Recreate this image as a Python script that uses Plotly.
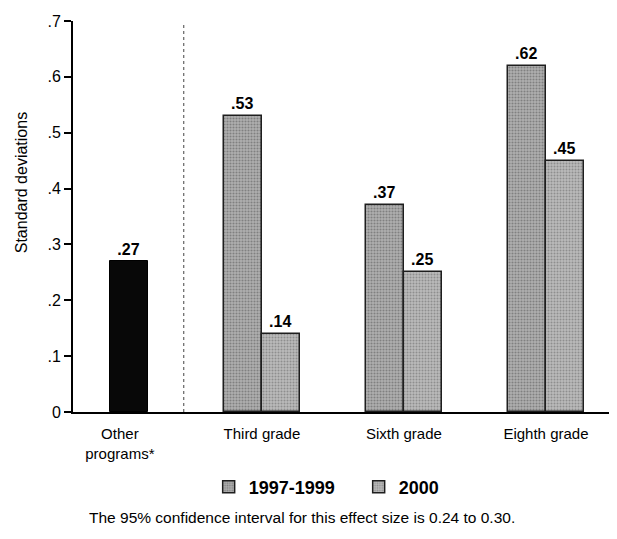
import plotly.graph_objects as go

categories = ["Other<br>programs*", "Third grade", "Sixth grade", "Eighth grade"]
other_label = ["Other<br>programs*"]
other_value = [0.27]
grade_labels = ["Third grade", "Sixth grade", "Eighth grade"]
values_1997_1999 = [0.53, 0.37, 0.62]
values_2000 = [0.14, 0.25, 0.45]
y_ticks = [0, 0.1, 0.2, 0.3, 0.4, 0.5, 0.6, 0.7]
y_tick_text = ["0", ".1", ".2", ".3", ".4", ".5", ".6", ".7"]


def fmt(v):
    return f"{v:.2f}".lstrip("0")


FONT = "Arial, Liberation Sans, sans-serif"
W = 0.27
LABEL_FONT = dict(family=FONT, size=16, color="black", weight="bold")

fig = go.Figure()
fig.add_trace(go.Bar(
    x=other_label, y=other_value, width=W, offset=-0.07,
    marker=dict(color="#080808", line=dict(color="#000000", width=1)),
    text=[fmt(v) for v in other_value], textposition="outside",
    textfont=LABEL_FONT, showlegend=False, cliponaxis=False,
))
fig.add_trace(go.Bar(
    x=grade_labels, y=values_1997_1999, width=W, offset=-W, name="1997-1999",
    marker=dict(color="#969696", line=dict(color="#1e1e1e", width=1.5),
                pattern=dict(shape=".", fgcolor="#505050", bgcolor="#b0b0b0", size=3, solidity=0.4)),
    text=[fmt(v) for v in values_1997_1999], textposition="outside",
    textfont=LABEL_FONT, cliponaxis=False,
))
fig.add_trace(go.Bar(
    x=grade_labels, y=values_2000, width=W, offset=0, name="2000",
    marker=dict(color="#a4a4a4", line=dict(color="#1e1e1e", width=1.5),
                pattern=dict(shape=".", fgcolor="#626262", bgcolor="#bababa", size=3, solidity=0.35)),
    text=[fmt(v) for v in values_2000], textposition="outside",
    textfont=LABEL_FONT, cliponaxis=False,
))

fig.add_shape(type="line", xref="x", yref="y", x0=0.45, x1=0.45, y0=0, y1=0.695,
              line=dict(color="#444444", width=1, dash="dot"))

fig.add_annotation(text="Standard deviations", xref="paper", yref="paper",
                   x=-0.095, y=0.587, textangle=-90, showarrow=False,
                   xanchor="center", yanchor="middle",
                   font=dict(family=FONT, size=16, color="black"))
fig.add_annotation(text="The 95% confidence interval for this effect size is 0.24 to 0.30.",
                   xref="paper", yref="paper", x=0.424, y=-0.271, showarrow=False,
                   xanchor="center", yanchor="middle",
                   font=dict(family=FONT, size=15.5, color="black"))

fig.update_layout(
    width=609, height=531,
    margin=dict(l=65, r=5, t=8.5, b=127),
    paper_bgcolor="white", plot_bgcolor="white",
    barmode="overlay", bargap=0,
    font=dict(family=FONT, size=15, color="black"),
    legend=dict(orientation="h", x=0.53, y=-0.192, xanchor="center", yanchor="middle",
                font=dict(family=FONT, size=18, color="black", weight="bold"),
                itemwidth=30, traceorder="normal", entrywidth=105),
    xaxis=dict(type="category", categoryorder="array", categoryarray=categories,
               range=[-0.33, 3.465], showline=True, linecolor="black", linewidth=2,
               ticks="", showgrid=False, zeroline=False, ticklabelstandoff=7,
               tickfont=dict(family=FONT, size=15, color="black")),
    yaxis=dict(range=[0, 0.7], tickvals=y_ticks, ticktext=y_tick_text,
               showline=True, linecolor="black", linewidth=2,
               ticks="outside", ticklen=7, tickwidth=1.5, tickcolor="black",
               showgrid=False, zeroline=False,
               tickfont=dict(family=FONT, size=16, color="black")),
)

fig.write_html("out.html")
